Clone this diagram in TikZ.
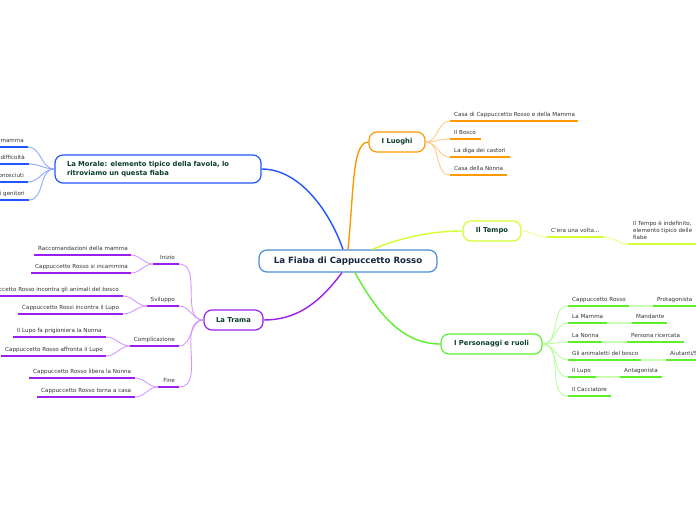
\documentclass[tikz,border=0pt]{standalone}
\usepackage{fontspec}
\setmainfont{DejaVu Sans}
\definecolor{rootb}{HTML}{4A90D0}
\definecolor{roott}{HTML}{17263F}
\definecolor{nodet}{HTML}{0B3D2E}
\definecolor{leaft}{HTML}{333333}
\definecolor{cblue}{HTML}{2255FF}
\definecolor{lblue}{HTML}{8FAAFF}
\definecolor{corange}{HTML}{FF9900}
\definecolor{lorange}{HTML}{FFCC88}
\definecolor{cyel}{HTML}{D4FF33}
\definecolor{lyel}{HTML}{EEFF99}
\definecolor{cgreen}{HTML}{5CF02A}
\definecolor{lgreen}{HTML}{B4FF99}
\definecolor{cpurp}{HTML}{9B1FF0}
\definecolor{lpurp}{HTML}{D09AFF}
\newcommand{\lf}[6]{%
  \coordinate (#1-s) at (#2,#4);
  \coordinate (#1-e) at (#3,#4);
  \draw[uline,#5] (#1-s) -- (#1-e);
  \node[leaf] (#1) at (#2+4,#4-4.2) {#6};
}
\newcommand{\lfr}[6]{%
  \coordinate (#1-s) at (#2,#4);
  \coordinate (#1-e) at (#3,#4);
  \draw[uline,#5] (#1-s) -- (#1-e);
  \node[leaf,anchor=base east] (#1) at (#3-4,#4-4.2) {#6};
}
\begin{document}
\begin{tikzpicture}[x=1pt,y=-1pt,
  leaf/.style={anchor=base west,inner sep=0pt,font=\fontsize{5.6}{6.8}\selectfont,text=leaft},
  uline/.style={line width=1.8pt},
  mainbox/.style={draw,fill=white,rounded corners=8pt,line width=1.2pt,text=nodet,
    font=\bfseries\fontsize{6.8}{9}\selectfont,inner sep=0pt},
  mconn/.style={line width=1.4pt},
  sconn/.style={line width=0.9pt},
]
\useasboundingbox (0,0) rectangle (696,520);
\clip (0,0) rectangle (696,520);
\fill[white] (0,0) rectangle (696,520);

% ---------- main nodes
\node[mainbox,draw=rootb,text=roott,font=\bfseries\fontsize{8.6}{10}\selectfont,
  minimum width=178pt,minimum height=22pt] (root) at (348,261) {La Fiaba di Cappuccetto Rosso};
\node[mainbox,draw=cblue,minimum width=206pt,minimum height=28pt,
  text width=182pt,align=left] (morale) at (158,169)
  {La Morale: elemento tipico della favola, lo\\ritroviamo un questa fiaba};
\node[mainbox,draw=corange,minimum width=56pt,minimum height=20pt] (luoghi) at (397,142) {I Luoghi};
\node[mainbox,draw=cyel,minimum width=58pt,minimum height=20pt] (tempo) at (492,231) {Il Tempo};
\node[mainbox,draw=cgreen,minimum width=101pt,minimum height=20pt] (pers) at (491.5,344) {I Personaggi e ruoli};
\node[mainbox,draw=cpurp,minimum width=59pt,minimum height=20pt] (trama) at (233.5,320) {La Trama};

% ---------- main connectors
\draw[mconn,cblue] (root.north) ++(-5,0) coordinate (r1) (r1) .. controls (330,212) and (300,169) .. (morale.east);
\draw[mconn,corange] (root.north) ++(0,0) coordinate (r2) (r2) .. controls (354,190) and (352,142) .. (luoghi.west);
\draw[mconn,cyel] (root.north) ++(24,0) coordinate (r3) (r3) .. controls (400,238) and (430,231) .. (tempo.west);
\draw[mconn,cgreen] (root.south) ++(7,0) coordinate (r4) (r4) .. controls (380,318) and (405,344) .. (pers.west);
\draw[mconn,cpurp] (root.south) ++(-6,0) coordinate (r5) (r5) .. controls (318,305) and (295,320) .. (trama.east);

% ---------- Morale leaves
\lfr{m1}{-20}{28}{147}{cblue}{mamma}
\lfr{m2}{-20}{29}{164}{cblue}{difficoltà}
\lfr{m3}{-20}{28}{182}{cblue}{onosciuti}
\lfr{m4}{-20}{29}{200}{cblue}{i genitori}
\foreach \k in {m1,m2,m3,m4} \draw[sconn,lblue] (morale.west) to[out=180,in=0] (\k-e);

% ---------- Luoghi leaves
\lf{l1}{450}{578}{121}{corange}{Casa di Cappuccetto Rosso e della Mamma}
\lf{l2}{450}{481}{139}{corange}{Il Bosco}
\lf{l3}{450}{510}{157}{corange}{La diga dei castori}
\lf{l4}{450}{507}{175}{corange}{Casa della Nonna}
\foreach \k in {l1,l2,l3,l4} \draw[sconn,lorange] (luoghi.east) to[out=0,in=180] (\k-s);

% ---------- Tempo leaves
\lf{t1}{547}{604}{237}{cyel}{C'era una volta...}
\coordinate (t2-s) at (628,244);
\coordinate (t2-e) at (700,244);
\draw[uline,cyel] (t2-s) -- (t2-e);
\node[leaf,anchor=north west,align=left,font=\fontsize{5.6}{7}\selectfont] (t2) at (633,221.3)
  {Il Tempo è indefinito,\\elemento tipico delle\\fiabe};
\draw[sconn,lyel] (tempo.east) to[out=0,in=180] (t1-s);
\draw[line width=1.2pt,lyel] (t1-e) to[out=0,in=180] (t2-s);

% ---------- Personaggi leaves
\lf{p1}{568}{629}{306}{cgreen}{Cappuccetto Rosso}
\lf{p1b}{653}{700}{306}{cgreen}{Protagonista}
\lf{p2}{568}{607}{323}{cgreen}{La Mamma}
\lf{p2b}{632}{667}{323}{cgreen}{Mandante}
\lf{p3}{568}{602}{342}{cgreen}{La Nonna}
\lf{p3b}{627}{684}{342}{cgreen}{Persona ricercata}
\lf{p4}{568}{641}{360}{cgreen}{Gli animaletti del bosco}
\lf{p4b}{666}{700}{360}{cgreen}{Aiutanti/S}
\lf{p5}{568}{596}{377}{cgreen}{Il Lupo}
\lf{p5b}{620}{662}{377}{cgreen}{Antagonista}
\lf{p6}{568}{611}{396}{cgreen}{Il Cacciatore}
\foreach \k in {p1,p2,p3,p4,p5,p6} \draw[sconn,lgreen] (pers.east) to[out=0,in=180] (\k-s);
\foreach \k in {p1,p2,p3,p4,p5} \draw[line width=1.5pt,lgreen!70] (\k-e) -- (\k b-s);

% ---------- Trama leaves
\lfr{tr1}{153}{179}{264}{cpurp}{Inizio}
\lfr{tr2}{147}{179}{306}{cpurp}{Sviluppo}
\lfr{tr3}{130}{179}{346}{cpurp}{Complicazione}
\lfr{tr4}{158}{179}{387}{cpurp}{Fine}
\foreach \k in {tr1,tr2,tr3,tr4} \draw[sconn,lpurp] (trama.west) to[out=180,in=0] (\k-e);

\lf{a1}{34}{131}{255}{cpurp}{Raccomandazioni della mamma}
\lf{a2}{31}{131}{273}{cpurp}{Cappuccetto Rosso si incammina}
\lfr{b1}{-10}{123}{296}{cpurp}{ccetto Rosso incontra gli animali del bosco}
\lf{b2}{18}{123}{314}{cpurp}{Cappuccetto Rossi incontra il Lupo}
\lf{c1}{13}{106}{337}{cpurp}{Il Lupo fa prigioniera la Nonna}
\lf{c2}{1}{106}{356}{cpurp}{Cappuccetto Rosso affronta il Lupo}
\lf{d1}{29}{135}{378}{cpurp}{Cappuccetto Rosso libera la Nonna}
\lf{d2}{37}{135}{397}{cpurp}{Cappuccetto Rosso torna a casa}
\foreach \k/\p in {a1/tr1,a2/tr1,b1/tr2,b2/tr2,c1/tr3,c2/tr3,d1/tr4,d2/tr4}
  \draw[sconn,lpurp] (\p-s) to[out=180,in=0] (\k-e);
\end{tikzpicture}
\end{document}
